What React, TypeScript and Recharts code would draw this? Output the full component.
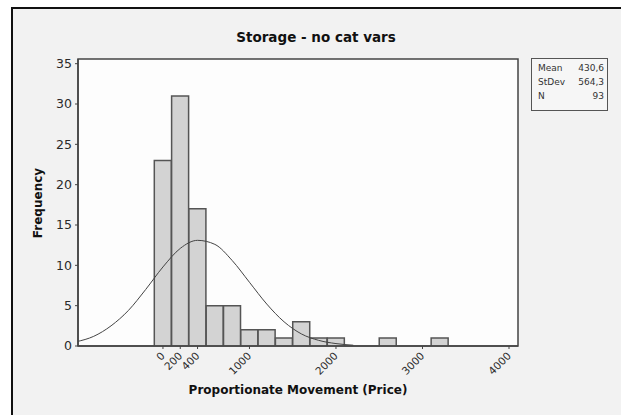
import React from 'react';
import {
  ComposedChart,
  Bar,
  Line,
  XAxis,
  YAxis,
  CartesianGrid,
  ReferenceArea,
} from 'recharts';

// bin centres (bin width 200), bar heights and the fitted normal curve
const binCenters = [
  -1000, -800, -600, -400, -200, 0, 200, 400, 600, 800, 1000, 1200, 1400,
  1600, 1800, 2000, 2200, 2400, 2600, 2800, 3000, 3200, 3400, 3600, 3800, 4000,
];
const frequencies = [
  null, null, null, null, null, 23, 31, 17, 5, 5, 2, 2, 1,
  3, 1, 1, null, null, 1, null, null, 1, null, null, null, null,
];
const normalFit = [
  0.53, 1.2, 2.5, 4.4, 7.0, 9.8, 12.1, 13.1, 12.6, 10.6, 7.9, 5.2, 3.0,
  1.5, 0.7, 0.3, 0.1, null, null, null, null, null, null, null, null, null,
];

const xTicks = [0, 200, 400, 1000, 2000, 3000, 4000];
const yTicks = [0, 5, 10, 15, 20, 25, 30, 35];
const xDomain = [-982, 4104];
const yDomain = [0, 35.58];

const stats = [
  { label: 'Mean', value: '430,6' },
  { label: 'StDev', value: '564,3' },
  { label: 'N', value: '93' },
];

const chartData = binCenters.map((x, i) => ({
  x,
  count: frequencies[i],
  curve: normalFit[i],
}));

const FONT = '"DejaVu Sans", Verdana, sans-serif';

const XTick = (props: any) => {
  const { x, y, payload } = props;
  return (
    <g transform={`translate(${x},${y})`}>
      <text
        textAnchor="end"
        transform="rotate(-45)"
        dy="0.35em"
        fontSize={10.5}
        fontFamily={FONT}
        fill="#2a2a2a"
      >
        {payload.value}
      </text>
    </g>
  );
};

const App = () => {
  return (
    <div style={{ position: 'absolute', left: 0, top: 0, width: 621, height: 415, background: '#fff', overflow: 'hidden' }}>
      <div
        style={{
          position: 'absolute',
          left: 11,
          top: 7,
          width: 612,
          height: 410,
          borderTop: '2px solid #111',
          borderLeft: '2px solid #111',
          background: '#f2f2f2',
        }}
      />
      <div
        style={{
          position: 'absolute',
          left: 11,
          width: 610,
          top: 29,
          textAlign: 'center',
          fontFamily: FONT,
          fontWeight: 'bold',
          fontSize: 13.5,
          color: '#111',
        }}
      >
        Storage - no cat vars
      </div>
      <div style={{ position: 'absolute', left: 0, top: 0 }}>
        <ComposedChart
          width={621}
          height={415}
          data={chartData}
          margin={{ top: 59, right: 103, bottom: 9, left: 18 }}
          barCategoryGap={0}
          barGap={0}
        >
          <CartesianGrid horizontal={false} vertical={false} fill="#fdfdfd" />
          <XAxis
            dataKey="x"
            type="number"
            domain={xDomain}
            allowDataOverflow
            ticks={xTicks}
            interval={0}
            height={60}
            tickSize={3}
            tickMargin={5}
            tick={<XTick />}
            axisLine={{ stroke: '#444', strokeWidth: 1.5 }}
            tickLine={{ stroke: '#444' }}
          />
          <YAxis
            type="number"
            domain={yDomain}
            allowDataOverflow
            ticks={yTicks}
            interval={0}
            width={60}
            tickSize={3}
            tickMargin={3}
            tick={{ fontSize: 12.5, fontFamily: FONT, fill: '#2a2a2a' }}
            axisLine={{ stroke: '#444', strokeWidth: 1.5 }}
            tickLine={{ stroke: '#444' }}
          />
          <Bar
            dataKey="count"
            fill="#d3d3d3"
            stroke="#555"
            strokeWidth={1.5}
            isAnimationActive={false}
          />
          <Line
            dataKey="curve"
            type="monotone"
            stroke="#444"
            strokeWidth={1}
            dot={false}
            activeDot={false}
            isAnimationActive={false}
          />
          <ReferenceArea
            x1={xDomain[0]}
            x2={xDomain[1]}
            y1={yDomain[0]}
            y2={yDomain[1]}
            fill="none"
            stroke="#444"
            strokeWidth={1.5}
          />
        </ComposedChart>
      </div>
      <div
        style={{
          position: 'absolute',
          left: 17,
          top: 203,
          width: 44,
          marginLeft: -22,
          transform: 'translate(21px, 0) rotate(-90deg)',
          transformOrigin: 'center',
          whiteSpace: 'nowrap',
          display: 'flex',
          justifyContent: 'center',
          alignItems: 'center',
          height: 0,
          fontFamily: FONT,
          fontWeight: 'bold',
          fontSize: 12,
          color: '#111',
        }}
      >
        Frequency
      </div>
      <div
        style={{
          position: 'absolute',
          left: 78,
          width: 440,
          top: 383,
          textAlign: 'center',
          fontFamily: FONT,
          fontWeight: 'bold',
          fontSize: 12,
          color: '#111',
        }}
      >
        Proportionate Movement (Price)
      </div>
      <div
        style={{
          position: 'absolute',
          left: 531,
          top: 58,
          width: 75,
          height: 49,
          border: '1px solid #555',
          background: '#f6f6f6',
          fontFamily: FONT,
          fontSize: 9,
          color: '#333',
          boxSizing: 'content-box',
          paddingTop: 2,
        }}
      >
        {stats.map((s) => (
          <div
            key={s.label}
            style={{ display: 'flex', justifyContent: 'space-between', padding: '0 3px 0 6px', lineHeight: '14px' }}
          >
            <span>{s.label}</span>
            <span>{s.value}</span>
          </div>
        ))}
      </div>
    </div>
  );
};

export default App;
